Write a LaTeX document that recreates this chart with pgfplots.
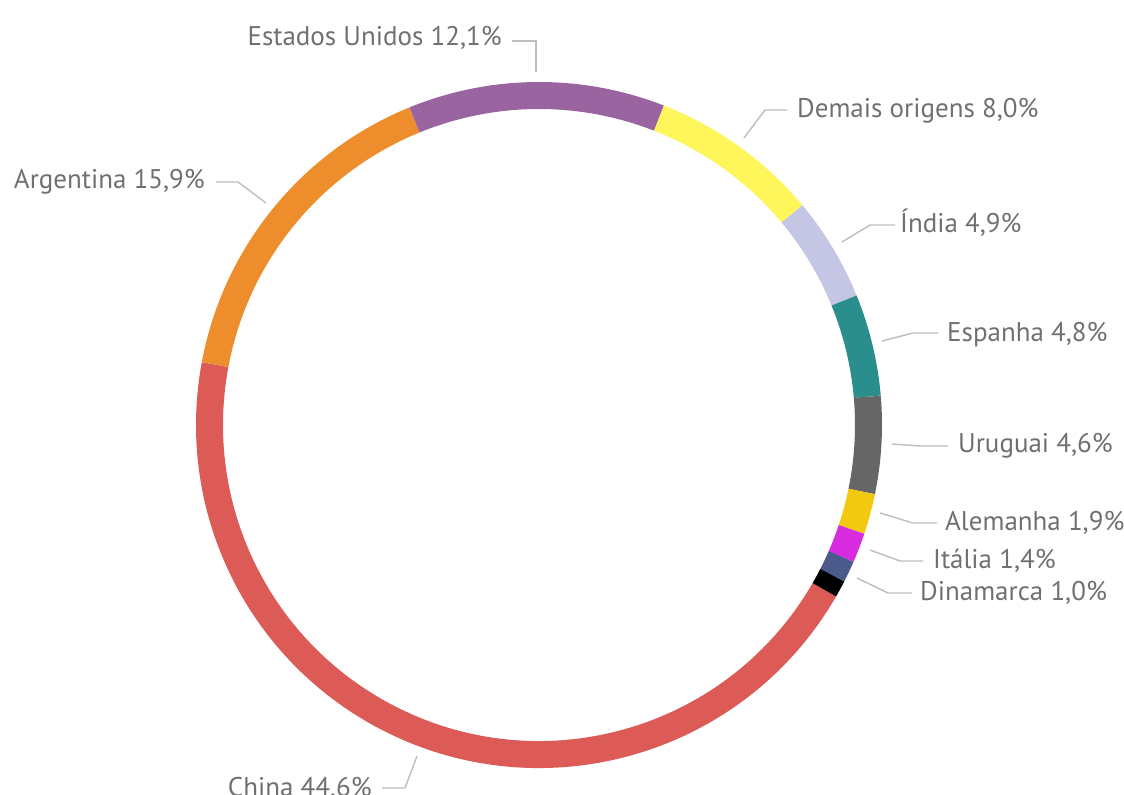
\documentclass[border=0pt]{standalone}
\usepackage{fontspec}
\setmainfont{PT Sans}
\usepackage{pgfplots}
\usepackage{pgfplotstable}
\pgfplotsset{compat=1.18}

\definecolor{seg0}{HTML}{DD5B57}
\definecolor{seg1}{HTML}{EE8D2C}
\definecolor{seg2}{HTML}{9A64A0}
\definecolor{seg3}{HTML}{FEF65B}
\definecolor{seg4}{HTML}{C5C6E3}
\definecolor{seg5}{HTML}{2A8E8C}
\definecolor{seg6}{HTML}{666666}
\definecolor{seg7}{HTML}{F2C811}
\definecolor{seg8}{HTML}{D82ADF}
\definecolor{seg9}{HTML}{4A5A8A}
\definecolor{seg10}{HTML}{000000}
\definecolor{labgray}{HTML}{707070}
\definecolor{leadgray}{HTML}{BDBDBD}

% share of each origin (%), start = running sum, clockwise from China
\pgfplotstableread{
name      start  pct   ci
China       0.0  44.6  0
Argentina  44.6  15.9  1
EUA        60.5  12.1  2
Demais     72.6   8.0  3
India      80.6   4.9  4
Espanha    85.5   4.8  5
Uruguai    90.3   4.6  6
Alemanha   94.9   1.9  7
Italia     96.8   1.4  8
Dinamarca  98.2   1.0  9
Outros     99.2   0.8  10
}\slices

% one ring segment per row, drawn at the donut centre
\pgfdeclareplotmark{ringseg}{%
  \pgfmathsetmacro\segA{-30-3.6*\segstart}%
  \pgfmathsetmacro\segB{\segA-3.6*\segpct}%
  \pgfmathtruncatemacro\segi{\segci}%
  \pgfsetlinewidth{27bp}%
  \pgfsetbuttcap
  \pgfsetstrokecolor{seg\segi}%
  \pgfpathmoveto{\pgfpointpolar{\segA}{329.5bp}}%
  \pgfpatharc{\segA}{\segB}{329.5bp}%
  \pgfusepath{stroke}%
}

\begin{document}
\begin{tikzpicture}
\begin{axis}[
  scale only axis, width=1124bp, height=795bp,
  xmin=0, xmax=1124, ymin=0, ymax=795,
  hide axis, clip=false,
]
\addplot[
  only marks, mark=ringseg,
  visualization depends on={\thisrow{start} \as \segstart},
  visualization depends on={\thisrow{pct} \as \segpct},
  visualization depends on={\thisrow{ci} \as \segci},
] table[x expr=539, y expr=370] {\slices};

\begin{scope}[leadgray, line width=1.4bp]
  \draw (axis cs:512,754) -- (axis cs:536,754) -- (axis cs:536,723);
  \draw (axis cs:744,657) -- (axis cs:765,685) -- (axis cs:787,685);
  \draw (axis cs:842,553) -- (axis cs:870,570) -- (axis cs:895,570);
  \draw (axis cs:882,454) -- (axis cs:913,462) -- (axis cs:938,462);
  \draw (axis cs:892,351) -- (axis cs:920,349) -- (axis cs:948,349);
  \draw (axis cs:880,282) -- (axis cs:913,272) -- (axis cs:937,272);
  \draw (axis cs:870,245) -- (axis cs:900,234) -- (axis cs:923,234);
  \draw (axis cs:857,217) -- (axis cs:888,202) -- (axis cs:912,202);
  \draw (axis cs:417,39) -- (axis cs:405,7) -- (axis cs:382,7);
  \draw (axis cs:216,613) -- (axis cs:238,613) -- (axis cs:266,592);
\end{scope}

\begin{scope}[every node/.style={inner sep=0pt, text=labgray, font=\fontsize{27bp}{32bp}\selectfont}]
  \node[anchor=base east] at (axis cs:502,749) {Estados Unidos 12,1\%};
  \node[anchor=base west] at (axis cs:797,677) {Demais origens 8,0\%};
  \node[anchor=base west] at (axis cs:900,562) {Índia 4,9\%};
  \node[anchor=base west] at (axis cs:947,453) {Espanha 4,8\%};
  \node[anchor=base west] at (axis cs:958,342) {Uruguai 4,6\%};
  \node[anchor=base west] at (axis cs:945,264) {Alemanha 1,9\%};
  \node[anchor=base west] at (axis cs:933,226) {Itália 1,4\%};
  \node[anchor=base west] at (axis cs:920,194) {Dinamarca 1,0\%};
  \node[anchor=base east] at (axis cs:372,-1) {China 44,6\%};
  \node[anchor=base east] at (axis cs:205,606) {Argentina 15,9\%};
\end{scope}
\end{axis}
\pgfresetboundingbox
\useasboundingbox (0,0) rectangle (1124bp,795bp);
\end{tikzpicture}
\end{document}
